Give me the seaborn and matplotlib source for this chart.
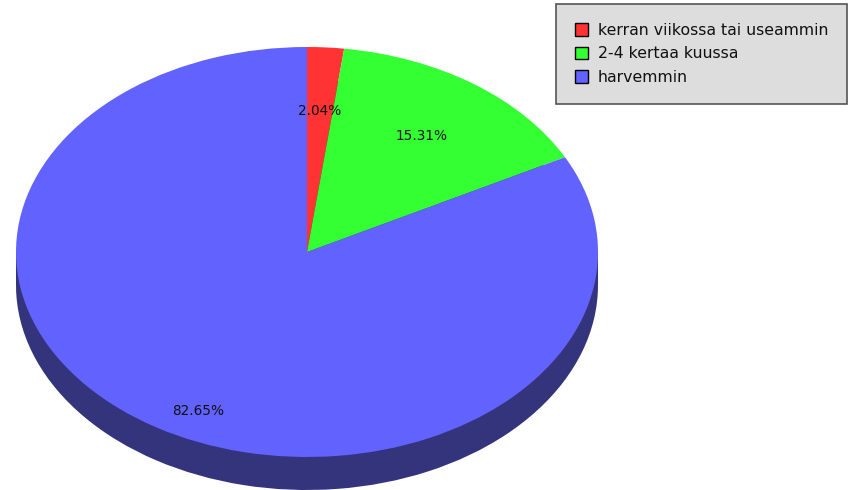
import matplotlib
matplotlib.use("Agg")
import matplotlib.pyplot as plt
import matplotlib.patches as mpatches
import seaborn as sns

# data
categories = ["kerran viikossa tai useammin", "2-4 kertaa kuussa", "harvemmin"]
shares = [2.04, 15.31, 82.65]
top_colors = ["#ff3333", "#33ff33", "#6262ff"]
side_colors = ["#7a1a1a", "#1a7a1a", "#34347c"]

sns.set_theme(style="white")
plt.rcParams["font.family"] = ["DejaVu Sans"]

W, H = 848, 490
fig = plt.figure(figsize=(W / 100, H / 100), dpi=100)
ax = fig.add_axes([0, 0, 1, 1])
ax.set_axis_off()

# ellipse geometry (pixels): centre, radii, depth of the side
cx, cy = 307, 252
rx, ry = 291, 205
depth = 33
k = rx / ry  # squash circle into ellipse through the y scale

top_c = (cx, (H - cy) * k)
low_c = (cx, (H - cy - depth) * k)

# side of the pie
ax.pie(shares, colors=side_colors, startangle=90, counterclock=False,
       radius=rx, center=low_c, wedgeprops=dict(linewidth=0), frame=True)
ax.add_patch(mpatches.Rectangle((cx - rx, low_c[1]), 2 * rx, top_c[1] - low_c[1],
                                facecolor=side_colors[2], edgecolor="none"))

# top face
wedges, _, autotexts = ax.pie(shares, colors=top_colors, startangle=90, counterclock=False,
                              radius=rx, center=top_c, autopct="%.2f%%", pctdistance=0.69,
                              wedgeprops=dict(linewidth=0), frame=True,
                              textprops=dict(fontsize=9.8, color="#111111"))
ax.set_xlim(0, W)
ax.set_ylim(0, H * k)
ax.set_aspect("auto")
ax.set_axis_off()

# the big slice label sits lower than its mid-angle
autotexts[2].set_position((cx - 0.375 * rx, top_c[1] - 0.776 * rx))

handles = [mpatches.Patch(facecolor=c, edgecolor="black", linewidth=1) for c in top_colors]
leg = ax.legend(handles, categories, loc="upper right", bbox_to_anchor=(847 / W, 1 - 4 / H),
                bbox_transform=fig.transFigure, fontsize=11.3, frameon=True, fancybox=False,
                handlelength=0.85, handleheight=0.85, handletextpad=0.6, labelspacing=0.55,
                borderpad=1.2, borderaxespad=0, labelcolor="#111111")
leg.get_frame().set_facecolor("#dddddd")
leg.get_frame().set_edgecolor("#555555")
leg.get_frame().set_linewidth(1.2)
leg.get_frame().set_alpha(1)

fig.savefig("out.png", dpi=100)
